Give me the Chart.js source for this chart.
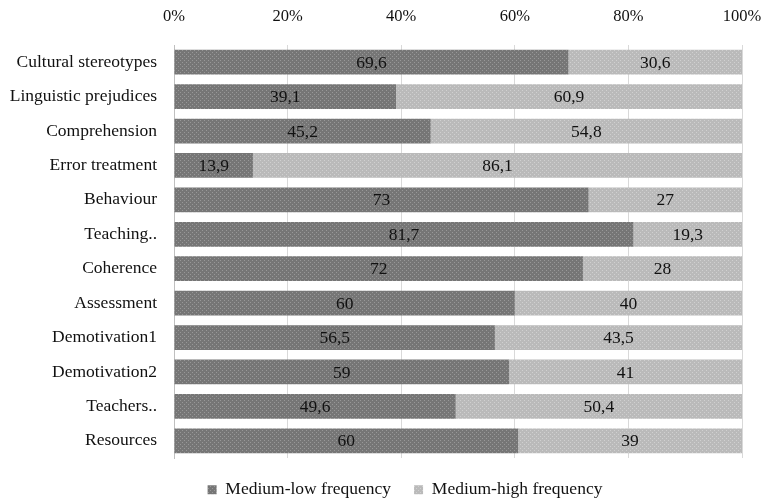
<!DOCTYPE html>
<html>
<head>
<meta charset="utf-8">
<script src="https://cdn.jsdelivr.net/npm/chart.js@4.4.0/dist/chart.umd.min.js"></script>
<style>
  html, body { margin: 0; padding: 0; background: #fff; }
  #wrap { width: 764px; height: 500px; position: relative; }
</style>
</head>
<body>
<div id="wrap"><canvas id="chart"></canvas></div>
<script>
const categories = ['Cultural stereotypes', 'Linguistic prejudices', 'Comprehension', 'Error treatment',
  'Behaviour', 'Teaching..', 'Coherence', 'Assessment', 'Demotivation1', 'Demotivation2', 'Teachers..', 'Resources'];
const mediumLow = [69.6, 39.1, 45.2, 13.9, 73, 81.7, 72, 60, 56.5, 59, 49.6, 60];
const mediumHigh = [30.6, 60.9, 54.8, 86.1, 27, 19.3, 28, 40, 43.5, 41, 50.4, 39];
const seriesNames = ['Medium-low frequency', 'Medium-high frequency'];
const xTicks = [0, 20, 40, 60, 80, 100];

const FONT = '"Liberation Serif", "Times New Roman", serif';

// dotted fill, like the old office halftone bars
function dotted(base, light) {
  const c = document.createElement('canvas');
  c.width = 4; c.height = 4;
  const g = c.getContext('2d');
  g.fillStyle = base;
  g.fillRect(0, 0, 4, 4);
  g.fillStyle = light;
  g.fillRect(0, 0, 1, 1);
  g.fillRect(2, 2, 1, 1);
  return g.createPattern(c, 'repeat');
}

// share of each row, so every bar fills 0..100%
const share = (a, i) => a[i] / (mediumLow[i] + mediumHigh[i]) * 100;
const lowPct = mediumLow.map((v, i) => share(mediumLow, i));
const highPct = mediumHigh.map((v, i) => share(mediumHigh, i));
const rawValues = [mediumLow, mediumHigh];

const fmt = v => String(v).replace('.', ',');

const segmentLabels = {
  id: 'segmentLabels',
  afterDatasetsDraw(chart) {
    const ctx = chart.ctx;
    ctx.save();
    ctx.font = '17.5px ' + FONT;
    ctx.fillStyle = '#111';
    ctx.textAlign = 'center';
    ctx.textBaseline = 'middle';
    chart.data.datasets.forEach((ds, di) => {
      chart.getDatasetMeta(di).data.forEach((bar, i) => {
        const cx = (bar.x + bar.base) / 2;
        ctx.fillText(fmt(rawValues[di][i]), cx, bar.y + 1);
      });
    });
    ctx.restore();
  }
};

// nudge the legend box so the items sit a bit right of the canvas centre
const legendShift = {
  id: 'legendShift',
  afterLayout(chart) {
    if (chart.legend) chart.legend.left += 68;
  }
};

const ctx = document.getElementById('chart').getContext('2d');
new Chart(ctx, {
  type: 'bar',
  data: {
    labels: categories,
    datasets: [
      { label: seriesNames[0], data: lowPct, backgroundColor: dotted('#767676', '#989898') },
      { label: seriesNames[1], data: highPct, backgroundColor: dotted('#bababa', '#d0d0d0') }
    ]
  },
  options: {
    indexAxis: 'y',
    responsive: true,
    maintainAspectRatio: false,
    animation: false,
    datasets: { bar: { categoryPercentage: 1, barPercentage: 0.72 } },
    layout: { padding: { top: 4, right: 22, bottom: 0, left: 0 } },
    plugins: {
      tooltip: { enabled: false },
      legend: {
        position: 'bottom',
        maxHeight: 42,
        labels: {
          color: '#111',
          font: { family: FONT, size: 17.5 },
          boxWidth: 9, boxHeight: 9,
          padding: 23
        }
      }
    },
    scales: {
      x: {
        position: 'top',
        stacked: true,
        min: 0, max: 100,
        afterBuildTicks: s => { s.ticks = xTicks.map(v => ({ value: v })); },
        afterFit: s => { s.height = 41; s.paddingLeft = 0; s.paddingRight = 0; },
        ticks: {
          color: '#111',
          font: { family: FONT, size: 16.5 },
          padding: 18,
          callback: v => v + '%'
        },
        grid: { color: '#d9d9d9', lineWidth: 1, drawTicks: false },
        border: { display: false }
      },
      y: {
        stacked: true,
        afterFit: s => { s.width = 174; },
        ticks: {
          color: '#111',
          font: { family: FONT, size: 17.5 },
          padding: 17
        },
        grid: { display: false, drawTicks: false },
        border: { display: true, color: '#bfbfbf', width: 1 }
      }
    }
  },
  plugins: [segmentLabels, legendShift]
});
</script>
</body>
</html>
